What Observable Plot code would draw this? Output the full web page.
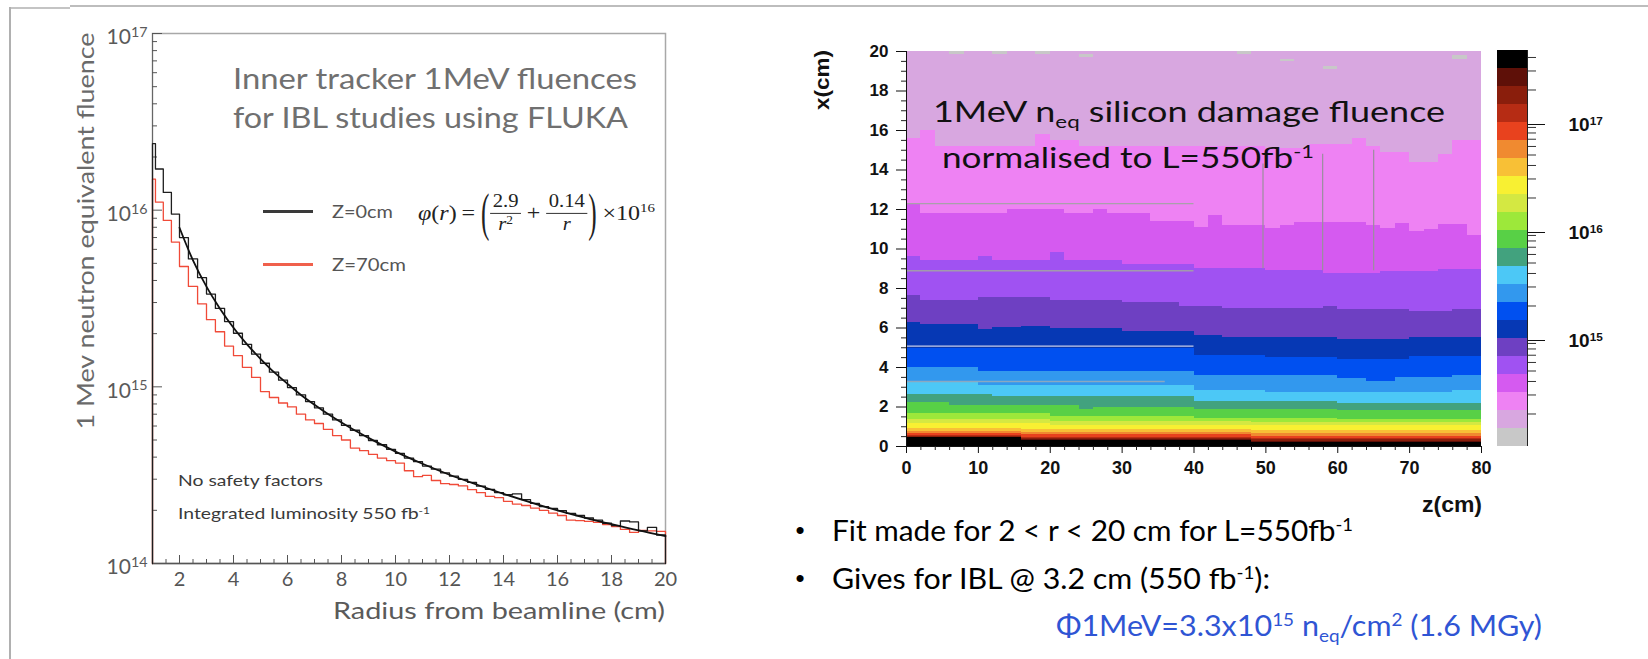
<!DOCTYPE html>
<html><head><meta charset="utf-8">
<script src="https://cdn.jsdelivr.net/npm/d3@7"></script>
<script src="https://cdn.jsdelivr.net/npm/@observablehq/plot@0.6"></script>
<style>
html,body{margin:0;padding:0;background:#fff;}
#wrap{position:relative;width:1648px;height:659px;overflow:hidden;background:#fff;}
.abs{position:absolute;white-space:nowrap;line-height:1;}
.abs sup{font-size:62%;line-height:0;position:relative;top:-0.55em;vertical-align:baseline;}
.abs sub{font-size:62%;line-height:0;position:relative;top:0.32em;vertical-align:baseline;}
.frac{display:inline-flex;flex-direction:column;align-items:center;font-size:18px;line-height:1.2;}
.frac .num{border-bottom:1px solid #333;padding:0 2px;}
.frac .den sup{font-size:65%;top:-0.5em;}
.bigp{display:inline-block;font-size:22px;transform:scaleY(2.4);font-weight:300;margin:0 1px;}
.bar{position:absolute;}
</style></head><body><div id="wrap"></div>
<script>
// ================= LEFT CHART DATA (fluence in units of 1e14) =================
const radiusEdges = [1,1.11,1.4,1.7,2,2.33,2.67,3,3.33,3.67,4,4.33,4.67,5,5.33,5.67,6,6.33,6.67,7,7.33,7.67,8,8.33,8.67,9,9.33,9.67,10,10.33,10.67,11,11.33,11.67,12,12.33,12.67,13,13.33,13.67,14,14.33,14.67,15,15.33,15.67,16,16.33,16.67,17,17.33,17.67,18,18.33,18.67,19,19.33,19.67,20];
const fluenceZ0_e14 = [238,171,126,95,70,53,41.5,33.5,27.8,23.4,
  20.1,17.4,15.3,13.6,12.1,10.9,9.9,9.0,8.25,7.6,
  7.0,6.5,6.05,5.68,5.3,4.97,4.7,4.43,4.2,3.95,
  3.77,3.56,3.42,3.26,3.12,2.99,2.88,2.74,2.63,2.52,
  2.45,2.48,2.3,2.19,2.1,2.05,1.99,1.92,1.87,1.81,
  1.76,1.69,1.64,1.74,1.72,1.53,1.6,1.45];
const fluenceZ70_e14 = [150,111,87.5,66,48,37,29.5,24,20.5,17,
  15,12.9,11.3,9.4,8.7,8.1,7.7,7.0,6.5,6.2,
  5.75,5.3,5.0,4.5,4.35,4.15,3.95,3.82,3.7,3.35,
  3.1,3.15,2.95,2.83,2.8,2.75,2.62,2.52,2.4,2.36,
  2.25,2.17,2.13,2.06,2.0,1.93,1.87,1.76,1.75,1.73,
  1.71,1.66,1.62,1.56,1.5,1.54,1.53,1.52];
const fitRadius = [2,2.5,3,3.5,4,4.5,5,5.5,6,6.5,7,7.5,8,8.5,9,9.5,10,11,12,13,14,15,16,17,18,19,20];
const fitFluence_e14 = [79.5,52,36.9,27.7,21.6,17.4,14.4,12.1,10.4,9.0,7.92,7.02,6.28,5.66,5.14,4.69,4.3,3.67,3.18,2.8,2.48,2.22,2.0,1.82,1.67,1.54,1.43];
const radiusTickLabels = [2,4,6,8,10,12,14,16,18,20];
const fluenceDecades = [1e14,1e15,1e16,1e17];

// ================= RIGHT CHART DATA =================
// colour levels (bottom -> top), each band spans 1/6 decade
const colorLevels = [1e14,1.468e14,2.154e14,3.162e14,4.642e14,6.813e14,1e15,1.468e15,2.154e15,3.162e15,4.642e15,6.813e15,1e16,1.468e16,2.154e16,3.162e16,4.642e16,6.813e16,1e17,1.468e17,2.154e17,3.162e17,4.642e17];
const bandColors = ["#c8c8c8","#d8a7e0","#ee82f3","#d55af0","#a052f2","#6e40c2","#0638b4","#0050f0","#3298ee","#4cc8f6","#42a27e","#58d046","#9de83a","#d4e842","#f8f032","#f8c036","#f08a30","#e8421e","#b62c14","#8a1e0c","#5e1008","#000000"];
const zBinStart = [0,2,4,6,8,10,12,14,16,18,20,22,24,26,28,30,32,34,36,38,40,42,44,46,48,50,52,54,56,58,60,62,64,66,68,70,72,74,76,78];
// band boundaries: [z from which value applies, x (cm)]
const blackTop       = [[0,0.44],[16,0.3],[48,0.22]];
const darkBrownTop   = [[0,0.47],[16,0.35],[48,0.27]];
const brownTop       = [[0,0.5],[16,0.4],[48,0.33]];
const darkRedTop     = [[0,0.56],[16,0.45],[48,0.39]];
const redTop         = [[0,0.64],[16,0.62],[48,0.5]];
const orangeTop      = [[0,0.76],[16,0.72],[48,0.66]];
const lightOrangeTop = [[0,0.89],[16,0.85],[48,0.81]];
const yellowTop      = [[0,1.15],[20,1.08],[48,1.05]];
const yellowGreenTop = [[0,1.35],[20,1.25],[48,1.2]];
const lightGreenTop  = [[0,1.65],[20,1.5],[40,1.42],[60,1.38]];
const greenTop       = [[0,2.25],[6,2.1],[24,1.85],[26,2.0],[40,1.85],[60,1.8]];
const tealTop        = [[0,2.65],[12,2.55],[40,2.3],[60,2.2]];
const cyanTop        = [[0,3.3],[10,3.1],[40,2.85],[50,2.75],[76,2.85]];
const medBlueTop     = [[0,4.0],[10,3.8],[40,3.6],[60,3.45],[64,3.3],[68,3.5],[76,3.6]];
const brightBlueTop  = [[0,4.95],[40,4.6],[50,4.5],[60,4.4],[70,4.55]];
const darkBlueTop    = [[0,6.3],[2,6.2],[10,5.9],[12,6.05],[16,6.1],[20,5.95],[30,5.8],[40,5.6],[44,5.5],[60,5.4],[70,5.5]];
const darkPurpleTop  = [[0,7.65],[2,7.4],[10,7.55],[20,7.4],[30,7.3],[38,7.1],[44,7.0],[58,7.1],[60,6.95],[70,6.85],[76,6.95]];
const purpleTop      = [[0,9.6],[2,9.4],[10,9.6],[12,9.4],[20,9.8],[22,9.4],[30,9.2],[40,9.0],[50,8.9],[58,8.75],[66,8.85],[74,8.95]];
const magentaTop     = [[0,12.3],[2,11.8],[14,12.0],[22,11.8],[26,12.0],[28,11.8],[34,11.4],[40,11.1],[42,11.7],[44,11.2],[50,11.05],[52,11.2],[54,11.35],[64,11.2],[66,11.05],[68,11.3],[70,10.9],[72,11.0],[74,11.25],[78,10.7]];
const pinkTop        = [[0,15.6],[2,16.0],[4,15.2],[18,15.8],[20,15.5],[24,15.2],[50,15.1],[56,15.3],[62,15.6],[64,15.2],[66,14.9],[70,14.4],[74,14.8],[76,15.5]];
const graySpecks = [[6,19.84,20],[12,19.86,20],[18,19.84,20],[24,19.68,19.83],[46,19.86,20],[52,19.47,19.62],[58,19.1,19.24],[76,19.62,19.8]];
const detectorH = [[12.3,0,40,"#a9a0aa"],[8.9,0,40,"#a29aac"],[5.08,0,40,"#c8cce8"],[3.29,0,36,"#8aa8c0"]];
const detectorV = [[49.6,9.0,14.3],[57.9,8.9,14.8],[65.0,8.9,15.0]];
const zTickLabels = [0,10,20,30,40,50,60,70,80];
const xTickLabels = [0,2,4,6,8,10,12,14,16,18,20];
const colorbarLabels = [1e15,1e16,1e17];

// ================= BUILD =================
const wrap = document.getElementById("wrap");
const sup10 = d => "10^" + Math.round(Math.log10(d));
function supify(svg, pct){
  svg.querySelectorAll("text").forEach(t=>{
    const m = /^10\^(\d+)$/.exec(t.textContent);
    if(!m) return;
    t.textContent = "10";
    const ts = document.createElementNS("http://www.w3.org/2000/svg","tspan");
    ts.setAttribute("dy","-0.5em"); ts.setAttribute("font-size",pct);
    ts.textContent = m[1];
    t.appendChild(ts);
  });
}
function put(svg, left, top){
  svg.style.position="absolute"; svg.style.left=left+"px"; svg.style.top=top+"px";
  svg.style.maxWidth="none"; svg.style.overflow="visible";
  wrap.appendChild(svg);
}

// ---- Left plot ----
const L = {W:700,H:659,ml:152,mr:35,mt:33,mb:96};
const plotW1 = L.W-L.ml-L.mr, plotH1 = L.H-L.mt-L.mb;
function steps(vals){
  const pts=[{r:1,v:1e14}];
  vals.forEach((v,i)=>pts.push({r:radiusEdges[i], v:v*1e14}));
  pts.push({r:20, v:vals[vals.length-1]*1e14});
  pts.push({r:20, v:1e14});
  return pts;
}
const fitPts = fitRadius.map((r,i)=>({r, v:fitFluence_e14[i]*1e14}));
const yMinor=[]; [1e14,1e15,1e16].forEach(d=>{for(let m=2;m<=9;m++) yMinor.push(m*d);});
const xMinor=[]; for(let k=3;k<=39;k++){ const v=k/2; if(v%2!==0) xMinor.push(v); }

const left = Plot.plot({
  width:L.W, height:L.H, marginLeft:L.ml, marginRight:L.mr, marginTop:L.mt, marginBottom:L.mb,
  style:{background:"transparent", fontFamily:"Lato, sans-serif", overflow:"visible"},
  x:{domain:[1,20]},
  y:{type:"log", domain:[1e14,1e17]},
  marks:[
    Plot.frame({stroke:"#a8a8a8", strokeWidth:1.5}),
    Plot.ruleX([1],{stroke:"#666"}),
    Plot.ruleY([1e14],{stroke:"#555", strokeWidth:1.3}),
    Plot.tickY(yMinor,{y:d=>d, insetRight:plotW1-5, stroke:"#555"}),
    Plot.tickY(fluenceDecades,{y:d=>d, insetRight:plotW1-10, stroke:"#555"}),
    Plot.tickX(xMinor,{x:d=>d, insetTop:plotH1-4, stroke:"#555"}),
    Plot.tickX(radiusTickLabels,{x:d=>d, insetTop:plotH1-8, stroke:"#555"}),
    Plot.line(steps(fluenceZ70_e14),{x:"r", y:"v", curve:"step-after", stroke:"#f04a38", strokeWidth:1.3}),
    Plot.line(steps(fluenceZ0_e14),{x:"r", y:"v", curve:"step-after", stroke:"#1e1e1e", strokeWidth:1.3}),
    Plot.line(fitPts,{x:"r", y:"v", curve:"monotone-x", stroke:"#111", strokeWidth:1.8}),
    Plot.axisX({ticks:radiusTickLabels, tickSize:0, tickPadding:8, fontSize:20, color:"#555", label:null}),
    Plot.axisY({ticks:fluenceDecades, tickSize:0, tickPadding:5, fontSize:21, color:"#5a5a5a", label:null, tickFormat:sup10, dy:4})
  ]
});
supify(left,"68%"); put(left,0,0);

// ---- Heatmap ----
const bandTops = [blackTop,darkBrownTop,brownTop,darkRedTop,redTop,orangeTop,lightOrangeTop,yellowTop,yellowGreenTop,lightGreenTop,greenTop,tealTop,cyanTop,medBlueTop,brightBlueTop,darkBlueTop,darkPurpleTop,purpleTop,magentaTop,pinkTop];
const stepAt = (arr,z)=>{let v=arr[0][1]; for(const [s,x] of arr){ if(s<=z) v=x; } return v;};
const cells=[];
zBinStart.forEach(z=>{
  let lo=0;
  for(let j=0;j<=bandTops.length;j++){
    const hi = j<bandTops.length ? Math.max(lo, stepAt(bandTops[j], z)) : 20;
    cells.push({z1:z, z2:z+2, lo, hi, fill:bandColors[21-j]});
    lo=hi;
  }
});
const specks = graySpecks.map(([z,a,b])=>({z1:z, z2:z+2, lo:a, hi:b, fill:bandColors[0]}));
const hLines = detectorH.map(([x,z1,z2,c])=>({x,z1,z2,c}));
const vLines = detectorV.map(([z,x1,x2])=>({z,x1,x2}));
const zMinor=[]; for(let z=2;z<80;z+=2){ if(z%10!==0) zMinor.push(z); }
const xMinorH=[]; for(let k=1;k<40;k++){ if(k%4!==0) xMinorH.push(k/2); }

const HM = {W:720,H:540,ml:126,mr:19,mt:51,mb:94};
const heat = Plot.plot({
  width:HM.W, height:HM.H, marginLeft:HM.ml, marginRight:HM.mr, marginTop:HM.mt, marginBottom:HM.mb,
  style:{background:"transparent", fontFamily:"'Liberation Sans', Arial, sans-serif", fontWeight:"bold", overflow:"visible", color:"#111"},
  x:{domain:[0,80]}, y:{domain:[0,20]}, color:{type:"identity"},
  marks:[
    Plot.rect(cells,{x1:"z1",x2:"z2",y1:"lo",y2:"hi",fill:"fill",shapeRendering:"crispEdges"}),
    Plot.rect(specks,{x1:"z1",x2:"z2",y1:"lo",y2:"hi",fill:"fill",shapeRendering:"crispEdges"}),
    Plot.ruleY(hLines,{y:"x",x1:"z1",x2:"z2",stroke:"c",strokeWidth:1.3}),
    Plot.ruleX(vLines,{x:"z",y1:"x1",y2:"x2",stroke:"#9a8e9c",strokeWidth:1.2}),
    Plot.ruleX([0],{stroke:"#111"}),
    Plot.ruleY([0],{stroke:"#111"}),
    Plot.axisX({ticks:zMinor, tickSize:4, tickFormat:()=>"", fill:"none", stroke:"#222", label:null}),
    Plot.axisY({ticks:xMinorH, tickSize:5, tickFormat:()=>"", fill:"none", stroke:"#222", label:null}),
    Plot.axisX({ticks:zTickLabels, tickSize:7, tickPadding:8, fontSize:18, fontWeight:"bold", color:"#111", label:null}),
    Plot.axisY({ticks:xTickLabels, tickSize:10, tickPadding:8, fontSize:17, fontWeight:"bold", color:"#111", label:null})
  ]
});
put(heat,780,0);

// ---- Colour bar ----
const cbBands = bandColors.map((c,k)=>({lo:colorLevels[k], hi:colorLevels[k+1], fill:c}));
const cbMinor=[]; [1e14,1e15,1e16,1e17].forEach(d=>{for(let m=2;m<=9;m++){ if(m*d<=4.6e17) cbMinor.push(m*d);} });
const cbar = Plot.plot({
  width:168, height:540, marginLeft:17, marginRight:121, marginTop:50, marginBottom:94,
  style:{background:"transparent", fontFamily:"'Liberation Sans', Arial, sans-serif", fontWeight:"bold", overflow:"visible", color:"#111"},
  x:{domain:[0,1], axis:null}, y:{type:"log", domain:[1e14,4.642e17]}, color:{type:"identity"},
  marks:[
    Plot.rect(cbBands,{x1:0,x2:1,y1:"lo",y2:"hi",fill:"fill",shapeRendering:"crispEdges"}),
    Plot.ruleX([1],{stroke:"#222"}),
    Plot.axisY({anchor:"right", ticks:cbMinor, tickSize:8, tickFormat:()=>"", fill:"none", stroke:"#333", label:null}),
    Plot.axisY({anchor:"right", ticks:colorbarLabels, tickSize:17, tickPadding:24, tickFormat:sup10, fontSize:19, fontWeight:"bold", color:"#111", label:null, dy:2})
  ]
});
supify(cbar,"62%"); put(cbar,1480,0);

// ---- HTML text overlays ----
function place(html,{x,y,w,anchor="start",font="Lato, sans-serif",size=20,weight=400,color="#000",rotate=false}){
  const el=document.createElement("div");
  el.className="abs"; el.innerHTML=html;
  el.style.fontFamily=font; el.style.fontSize=size+"px"; el.style.fontWeight=weight; el.style.color=color;
  el.style.left="0px"; el.style.top="0px";
  wrap.appendChild(el);
  const nat=el.getBoundingClientRect().width;
  const k = w ? w/nat : 1;
  if(rotate){
    el.style.left=x+"px"; el.style.top=y+"px";
    el.style.transform=`translate(-50%,-50%) rotate(-90deg) scaleX(${k})`;
  } else {
    const lx = anchor==="start" ? x : anchor==="end" ? x-nat*k : x-nat*k/2;
    el.style.left=lx+"px"; el.style.top=y+"px";
    el.style.transformOrigin="0 0";
    el.style.transform=`scaleX(${k}) translateY(-50%)`;
  }
  return el;
}
function bar(x,y,w,h,c){const d=document.createElement("div");d.className="bar";Object.assign(d.style,{left:x+"px",top:y+"px",width:w+"px",height:h+"px",background:c});wrap.appendChild(d);}

// slide borders
bar(70,5,1578,2,"#bdbdbd");
bar(10,7,60,2,"#c4c4c4");
bar(9,7,2,652,"#b0b0b0");

// left chart texts
place("1 Mev neutron equivalent fluence",{x:85,y:231,w:397,size:24,color:"#6a6a6a",rotate:true});
place("Radius from beamline (cm)",{x:665,y:610,w:332,anchor:"end",size:24,color:"#5a5a5a"});
place("Inner tracker 1MeV fluences",{x:233,y:78,w:404,size:28,color:"#707070"});
place("for IBL studies using FLUKA",{x:233,y:117,w:395,size:28,color:"#707070"});
bar(263,210,50,2.5,"#3a3a3a");
bar(263,263,50,2.5,"#f0604c");
place("Z=0cm",{x:332,y:211,w:61,size:17,color:"#555"});
place("Z=70cm",{x:332,y:264,w:74,size:17,color:"#555"});
place(`<span style="display:inline-flex;align-items:center"><span><i>φ</i>(<i>r</i>)&thinsp;=&thinsp;</span><span class="bigp">(</span><span class="frac"><span class="num">2.9</span><span class="den"><i>r</i><sup>2</sup></span></span><span>&nbsp;+&nbsp;</span><span class="frac"><span class="num">0.14</span><span class="den"><i>r</i></span></span><span class="bigp">)</span><span>&thinsp;×10<sup>16</sup></span></span>`,
  {x:418,y:213,w:237,font:"'Liberation Serif', 'Times New Roman', serif",size:21,color:"#222"});
place("No safety factors",{x:178,y:480,w:145,size:16,color:"#3a3a3a"});
place("Integrated luminosity 550 fb<sup>-1</sup>",{x:178,y:513,w:252,size:16,color:"#3a3a3a"});

// right chart texts
const arialB = "'Liberation Sans', Arial, sans-serif";
place("x(cm)",{x:821,y:80,w:60,font:arialB,size:21,weight:700,color:"#111",rotate:true});
place("z(cm)",{x:1482,y:505,w:60,anchor:"end",font:arialB,size:22,weight:700,color:"#111"});
place("1MeV n<sub>eq</sub> silicon damage fluence",{x:933,y:110,w:512,size:29,color:"#111"});
place("normalised to L=550fb<sup>-1</sup>",{x:942,y:156,w:372,size:29,color:"#111"});
place("•",{x:800,y:530,anchor:"middle",font:arialB,size:26,color:"#000"});
place("•",{x:800,y:578,anchor:"middle",font:arialB,size:26,color:"#000"});
place("Fit made for 2 &lt; r &lt; 20 cm for L=550fb<sup>-1</sup>",{x:832,y:530,w:521,size:28,color:"#000"});
place("Gives for IBL @ 3.2 cm (550 fb<sup>-1</sup>):",{x:832,y:578,w:438,size:28,color:"#000"});
place("Φ1MeV=3.3x10<sup>15</sup> n<sub>eq</sub>/cm<sup>2</sup> (1.6 MGy)",{x:1056,y:625,w:486,size:28,color:"#2f55d4"});
</script></body></html>
